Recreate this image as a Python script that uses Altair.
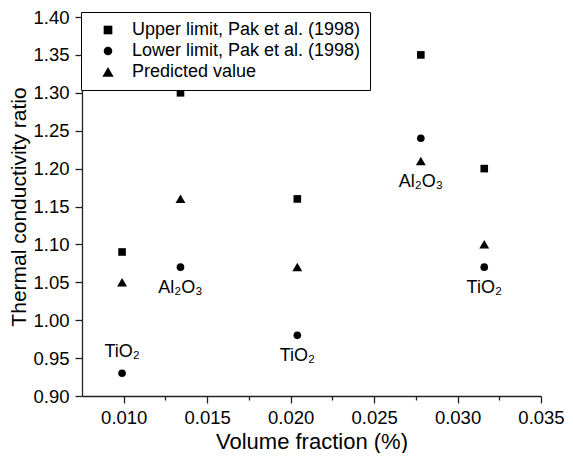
import altair as alt
import pandas as pd

# ---- data ----
x_vals = [0.0099, 0.0134, 0.0204, 0.0278, 0.0316]
upper = [1.09, 1.30, 1.16, 1.35, 1.20]
lower = [0.93, 1.07, 0.98, 1.24, 1.07]
predicted = [1.05, 1.16, 1.07, 1.21, 1.10]
series_names = [
    "Upper limit, Pak et al. (1998)",
    "Lower limit, Pak et al. (1998)",
    "Predicted value",
]
# square, circle, and a slightly larger up-triangle (custom path)
series_shapes = ["square", "circle", "M0,-1.15L1.3,1.1L-1.3,1.1Z"]

label_x = [0.0099, 0.0134, 0.0204, 0.0278, 0.0316]
label_y = [0.93, 1.07, 0.98, 1.21, 1.07]
label_text = ["TiO₂", "Al₂O₃", "TiO₂", "Al₂O₃", "TiO₂"]
label_pos = ["above", "below", "below", "below", "below"]

x_tick_values = [0.010, 0.0125, 0.015, 0.0175, 0.020, 0.0225, 0.025,
                 0.0275, 0.030, 0.0325, 0.035]
y_tick_values = [0.90, 0.95, 1.00, 1.05, 1.10, 1.15, 1.20, 1.25, 1.30, 1.35, 1.40]

rows = []
for name, vals in zip(series_names, [upper, lower, predicted]):
    for xv, yv in zip(x_vals, vals):
        rows.append({"x": xv, "y": yv, "series": name})
df = pd.DataFrame(rows)

labels = pd.DataFrame({"x": label_x, "y": label_y, "text": label_text, "pos": label_pos})

FONT = "Liberation Sans"
INK = "#222222"

x_scale = alt.Scale(domain=[0.0075, 0.035], nice=False, zero=False)
y_scale = alt.Scale(domain=[0.90, 1.40], nice=False, zero=False)

minor_test = "round(datum.value*10000) % 50 != 0"

x_axis = alt.Axis(
    title="Volume fraction (%)",
    values=x_tick_values,
    labelExpr="round(datum.value*10000) % 50 == 0 ? format(datum.value, '.3f') : ''",
    tickSize={"condition": {"test": minor_test, "value": 4}, "value": 7},
    labelFontSize=18.5,
    titleFontSize=22,
    labelPadding=5,
    titlePadding=5,
    labelFlush=False,
    labelOverlap=False,
)
y_axis = alt.Axis(
    title="Thermal conductivity ratio",
    values=y_tick_values,
    format=".2f",
    tickSize=7,
    labelFontSize=18.5,
    titleFontSize=21,
    labelPadding=6,
    titlePadding=3,
    labelFlush=False,
    labelOverlap=False,
)

x_enc = alt.X("x:Q", scale=x_scale, axis=x_axis)
y_enc = alt.Y("y:Q", scale=y_scale, axis=y_axis)

points = alt.Chart(df).mark_point(filled=True, color="black", opacity=1, size=58).encode(
    x=x_enc,
    y=y_enc,
    shape=alt.Shape(
        "series:N",
        scale=alt.Scale(domain=series_names, range=series_shapes),
        legend=alt.Legend(
            title=None,
            orient="none",
            legendX=-1,
            legendY=-5,
            strokeColor="black",
            fillColor="white",
            padding=9,
            cornerRadius=0,
            labelFont=FONT,
            labelFontSize=18,
            labelColor="black",
            labelOffset=15,
            symbolOffset=9,
            symbolSize=75,
            symbolFillColor="black",
            symbolStrokeColor="black",
            symbolStrokeWidth=0,
            rowPadding=3,
            labelLimit=400,
        ),
    ),
)

above = alt.Chart(labels).transform_filter("datum.pos == 'above'").mark_text(
    font=FONT, fontSize=18, color="black", dy=-21, baseline="middle", align="center"
).encode(x=x_enc, y=y_enc, text="text:N")

below = alt.Chart(labels).transform_filter("datum.pos == 'below'").mark_text(
    font=FONT, fontSize=18, color="black", dy=21, baseline="middle", align="center"
).encode(x=x_enc, y=y_enc, text="text:N")

chart = (
    alt.layer(points, above, below)
    .properties(
        width=557,
        height=445,
        background="white",
        padding=0,
        autosize=alt.AutoSizeParams(type="fit", contains="padding"),
    )
    .configure_view(stroke=None)
    .configure_axis(
        grid=False,
        domainColor=INK,
        domainWidth=1.3,
        tickColor=INK,
        tickWidth=1.3,
        labelColor="black",
        titleColor="black",
        labelFont=FONT,
        titleFont=FONT,
        titleFontWeight="normal",
    )
)

chart.save("out.html", embed_options={"renderer": "svg", "actions": False})
